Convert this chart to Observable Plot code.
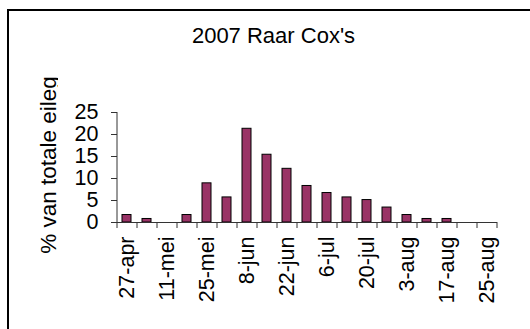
<!DOCTYPE html>
<html>
<head>
<meta charset="utf-8">
<script src="https://cdn.jsdelivr.net/npm/d3@7"></script>
<script src="https://cdn.jsdelivr.net/npm/@observablehq/plot@0.6"></script>
<style>
  html, body { margin: 0; padding: 0; background: #fff; }
  #wrap { position: relative; width: 530px; height: 329px; overflow: hidden; background: #fff; }
  #box { position: absolute; left: 7px; top: 9px; width: 600px; height: 400px;
         border-top: 2px solid #000; border-left: 2px solid #000; box-sizing: border-box; }
  #chart { position: absolute; left: 0; top: 0; }
</style>
</head>
<body>
<div id="wrap"><div id="box"></div><div id="chart"></div></div>
<script>
// Weekly share of total egg laying, 2007
const title = "2007 Raar Cox's";
const yLabel = "% van totale eileg";
const weeks = ["27-apr", "4-mei", "11-mei", "18-mei", "25-mei", "1-jun", "8-jun", "15-jun", "22-jun", "29-jun",
               "6-jul", "13-jul", "20-jul", "27-jul", "3-aug", "10-aug", "17-aug", "21-aug", "25-aug"];
const shares = [1.7, 0.8, 0, 1.7, 8.9, 5.7, 21.3, 15.4, 12.2, 8.3, 6.7, 5.7, 5.1, 3.4, 1.7, 0.8, 0.8, 0, 0];
const labelledWeeks = weeks.filter((d, i) => i % 2 === 0);
const yTicks = [0, 5, 10, 15, 20, 25];

const data = weeks.map((week, i) => ({week, value: shares[i]}));

const width = 530, height = 329;
const marginLeft = 117, marginRight = 33, marginTop = 112, marginBottom = 107;
const step = (width - marginLeft - marginRight) / weeks.length;
const font = "Liberation Sans, Arial, sans-serif";
const axisColor = "#333";

const chart = Plot.plot({
  width, height, marginLeft, marginRight, marginTop, marginBottom,
  style: {fontFamily: font, fontSize: "20px", color: "#000", background: "transparent"},
  x: {type: "band", domain: weeks, paddingInner: 0.53, paddingOuter: 0.265, align: 0.5},
  y: {domain: [0, 25]},
  marks: [
    Plot.axisY({ticks: yTicks, tickSize: 6, tickPadding: 13, stroke: axisColor, fontSize: 21.5, label: null}),
    Plot.axisX({ticks: labelledWeeks, tickSize: 0, tickPadding: 14, tickRotate: -90, fontSize: 21.5, label: null}),
    // category boundary ticks below the baseline
    Plot.ruleX(weeks, {x: d => d, y1: 0, y2: 0, insetBottom: -6, dx: -step / 2, stroke: axisColor}),
    Plot.ruleX(weeks.slice(-1), {x: d => d, y1: 0, y2: 0, insetBottom: -6, dx: step / 2, stroke: axisColor}),
    // value axis line
    Plot.ruleX(weeks.slice(0, 1), {x: d => d, y1: 0, y2: 25, dx: -step / 2, stroke: axisColor}),
    Plot.barY(data.filter(d => d.value > 0), {x: "week", y: "value", fill: "#993366", stroke: "#000", strokeWidth: 1}),
    Plot.ruleY([0], {stroke: axisColor}),
    Plot.text([title], {frameAnchor: "top", dx: -34, dy: -77, lineAnchor: "middle", fontSize: 22, fill: "#000"}),
    Plot.text([yLabel], {frameAnchor: "left", rotate: -90, dx: -69, dy: -2.5, textAnchor: "middle", lineAnchor: "middle", fontSize: 22.5, fill: "#000"})
  ]
});

// the axis title box cuts off the descender of its last letter
const svg = d3.select(chart);
svg.append("defs").append("clipPath").attr("id", "ylabel-clip")
  .append("rect").attr("x", 0).attr("y", 0).attr("width", 58).attr("height", height);
svg.selectAll("text").filter(function() { return this.textContent === yLabel; }).each(function() {
  const g = this.parentNode;
  const outer = document.createElementNS("http://www.w3.org/2000/svg", "g");
  outer.setAttribute("clip-path", "url(#ylabel-clip)");
  g.parentNode.insertBefore(outer, g);
  outer.appendChild(g);
});

document.getElementById("chart").appendChild(chart);
</script>
</body>
</html>
